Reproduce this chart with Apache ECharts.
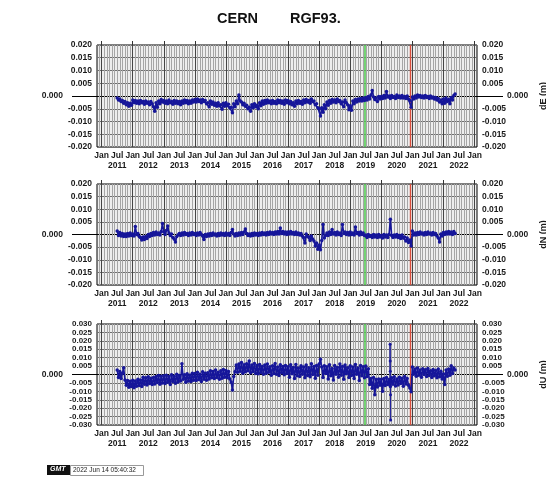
<!DOCTYPE html>
<html>
<head>
<meta charset="utf-8">
<script src="https://cdn.jsdelivr.net/npm/echarts@6/dist/echarts.min.js"></script>
<style>
html, body { margin: 0; padding: 0; background: #fff; }
#chart { width: 546px; height: 478px; }
</style>
</head>
<body>
<div id="chart"></div>
<script>
// time axis (decimal years), samples every half month from mid 2011
var T0 = 2011.5;
var DT = 1 / 24;
var X_MIN = 2010.85, X_MAX = 2023.08;
var yearLabels = ['2011','2012','2013','2014','2015','2016','2017','2018','2019','2020','2021','2022'];
var halfYearNames = ['Jan', 'Jul'];
var greenEpoch = 2019.48;   // green vertical line
var redEpoch = 2020.92;     // red vertical line

// dE in mm
var dE = [
  -0.8,-1.6,-1.2,-2.2,-1.8,-2.8,-2.2,-3.4,-2.6,-4.0,-2.8,-3.6,
  -1.6,-2.6,-1.8,-2.8,-2.0,-3.0,-1.8,-2.6,-2.2,-3.2,-2.0,-2.8,-2.4,-3.4,-2.2,-3.0,-4.2,-6.0,-2.6,-4.4,-2.0,-3.0,-1.4,-2.4,
  -1.8,-2.8,-2.0,-3.0,-1.6,-2.6,-2.2,-3.2,-1.8,-2.8,-2.0,-3.0,-2.2,-3.4,-2.0,-2.8,-1.6,-2.6,-1.8,-3.0,-2.0,-2.8,-1.6,-2.4,
  -1.4,-2.4,-1.2,-2.2,-1.6,-2.6,-1.4,-2.2,-1.8,-3.0,-2.6,-4.2,-2.0,-3.2,-2.4,-3.6,-2.8,-4.0,-2.6,-3.8,-3.4,-5.2,-2.8,-4.0,
  -2.6,-3.8,-3.2,-4.6,-4.4,-6.6,-3.0,-4.2,-2.0,-3.0,0.4,-2.0,-2.4,-3.4,-2.8,-4.0,-3.6,-5.0,-4.4,-6.0,-3.4,-4.6,-3.0,-4.2,
  -3.6,-5.0,-2.6,-3.8,-2.0,-3.2,-1.8,-2.8,-1.6,-2.6,-2.0,-3.0,-1.8,-2.8,-2.2,-3.0,-1.6,-2.6,-1.8,-2.8,-2.0,-3.2,-1.6,-2.6,
  -1.8,-3.0,-2.2,-3.4,-2.6,-4.0,-2.0,-3.0,-1.8,-2.8,-2.2,-3.2,-1.6,-2.6,-1.4,-2.4,-1.8,-2.8,-1.2,-2.2,-2.0,-3.4,-3.0,-4.6,
  -5.0,-7.8,-4.6,-6.4,-3.4,-5.0,-2.4,-3.6,-1.8,-2.8,-1.4,-2.4,-1.6,-2.6,-1.2,-2.2,-1.8,-3.0,-2.4,-4.2,-1.6,-2.6,-3.4,-5.4,
  -3.8,-5.6,-2.0,-3.0,-1.4,-2.4,-1.2,-2.0,-1.0,-2.0,-0.8,-1.8,-0.6,-1.6,-0.2,-1.2,0.4,2.2,-0.4,-1.4,-0.8,-2.2,-0.2,-1.2,
  -0.2,-1.0,0.2,-0.8,1.8,-0.4,0.0,-1.0,0.2,-0.6,-0.2,-1.0,0.4,-0.6,0.0,-0.8,0.2,-0.8,-0.2,-1.0,0.0,-1.2,-1.8,-4.4,
  -0.4,-1.2,0.0,-0.8,0.4,-0.4,0.2,-0.6,0.0,-0.8,0.2,-0.6,-0.2,-1.0,0.0,-0.8,-0.4,-1.2,-0.6,-1.6,-1.0,-2.4,-1.6,-3.0,
  -1.2,-2.8,-0.8,-2.2,-1.4,-3.0,-0.6,-1.6,0.2,0.8
];

// dN in mm
var dN = [
  1.4,-0.4,0.8,-0.6,0.4,-0.8,0.2,-0.8,0.4,-0.6,0.6,-0.4,
  0.2,-0.6,3.2,0.0,0.4,-0.8,-1.2,-2.2,-1.0,-2.0,-0.8,-1.6,0.0,-0.8,0.4,-0.4,0.8,-0.2,1.0,0.0,0.6,-0.2,1.2,4.4,
  1.0,0.0,1.6,3.4,0.6,-0.4,0.2,-1.2,-1.8,-3.0,-0.8,-0.2,0.4,-0.4,0.6,-0.2,0.8,0.0,0.4,-0.4,0.6,-0.2,0.8,0.0,
  0.4,-0.4,0.6,-0.2,0.8,0.0,-0.6,-2.0,0.0,-0.8,0.2,-0.6,0.4,-0.4,0.6,-0.2,0.2,-0.6,0.4,-0.4,0.6,-0.2,0.4,-0.4,
  0.6,-0.2,0.4,-0.4,0.8,2.0,0.2,-0.6,0.4,-0.4,0.6,-0.2,0.8,0.0,1.0,2.2,0.4,-0.4,0.2,-0.6,0.4,-0.4,0.6,-0.2,
  0.4,-0.4,0.6,-0.2,0.8,0.0,0.6,-0.2,0.8,0.0,1.0,0.2,0.8,0.0,1.0,0.2,1.2,0.2,2.6,0.4,1.2,0.2,1.0,0.0,
  1.0,0.2,1.2,0.2,0.8,0.0,1.0,0.0,0.6,-0.2,0.4,-0.6,-1.2,-3.4,0.2,-0.8,-1.0,-2.4,-0.6,-1.8,-2.6,-4.6,-3.4,-5.8,
  -4.2,-6.0,-2.4,4.0,-1.4,-0.4,0.6,-0.4,1.0,0.0,2.0,0.2,0.8,-0.2,1.0,0.0,0.6,-0.4,4.0,0.4,1.0,0.0,0.8,-0.2,
  1.0,0.0,0.6,-0.2,3.0,0.4,0.8,-0.2,1.0,0.0,0.6,-0.4,-0.2,-1.2,0.0,-0.8,-0.4,-1.2,0.0,-1.0,-0.2,-1.2,0.0,-1.0,
  -0.4,-1.4,0.0,-1.0,-0.2,-1.2,0.0,6.0,-0.4,-1.2,-0.2,-1.0,0.0,-1.2,-0.4,-1.6,-0.2,-1.4,-1.0,-2.6,-1.4,-3.2,-2.2,-4.6,
  1.4,-0.2,0.6,-0.2,0.8,0.0,1.0,0.2,0.6,-0.2,0.8,0.0,1.0,0.2,0.6,-0.2,0.8,0.0,0.4,-0.6,-1.4,-3.0,0.2,-0.6,
  0.8,0.0,1.0,0.2,1.2,0.2,1.0,0.0,1.2,0.4
];

// dU in mm
var dU = [
  2.6,-1.8,1.8,-2.4,0.8,4.0,-3.2,-6.4,-3.6,-7.6,-4.0,-7.2,
  -3.4,-7.8,-3.8,-7.0,-2.8,-6.6,-3.2,-7.2,-1.6,-5.8,-2.0,-6.2,-1.4,-5.4,-2.2,-6.0,-1.8,-5.6,-1.2,-4.8,-0.6,-5.8,-1.0,-5.0,
  -0.8,-5.4,-0.4,-4.6,-1.2,-6.0,-0.2,-4.2,-1.0,-5.2,0.2,-4.4,-0.6,-3.8,6.4,-2.8,-0.2,-4.6,0.4,-3.8,-0.4,-4.2,0.8,-3.4,
  0.6,-3.6,1.4,-3.0,0.2,-4.2,1.6,-2.8,0.8,-3.4,1.0,-2.6,2.2,-2.0,1.8,-2.4,2.6,-1.8,1.4,-2.8,2.2,-2.2,3.0,-1.6,
  2.4,-2.0,1.8,-2.6,-4.4,-9.2,-1.2,1.6,5.6,1.4,6.2,2.0,7.2,0.8,5.8,1.6,6.4,2.2,8.0,1.0,5.6,1.8,6.6,0.6,
  5.4,0.4,6.0,1.2,4.8,0.2,5.6,0.8,6.2,1.4,4.6,-0.4,5.2,0.6,6.6,0.2,4.4,-0.6,5.8,1.0,4.8,-0.2,5.4,0.6,
  4.6,-1.6,5.8,0.4,4.2,-2.4,6.0,-0.8,3.8,-1.2,5.2,0.2,4.4,-2.0,5.6,-0.6,4.0,-1.4,6.4,0.0,4.8,-2.2,5.4,-0.4,
  6.2,9.0,4.4,-1.8,5.2,0.6,4.6,-2.6,5.8,-0.8,3.6,-3.2,5.4,0.2,4.2,-1.6,6.2,-0.4,4.8,-2.8,5.6,0.4,4.0,-1.8,
  5.2,-0.6,4.4,-2.4,6.0,0.2,3.8,-3.6,5.4,-0.8,4.6,-2.0,5.0,-1.2,3.4,-6.0,-2.4,-8.2,-1.8,-12.0,-3.0,-7.4,-2.6,-6.4,
  -2.8,-10.0,-2.4,-6.6,-1.8,-6.0,-3.0,-7.2,-2.0,-5.8,-1.4,-6.8,-2.6,-6.2,-1.6,-5.4,-2.2,-7.0,-1.2,-5.6,-2.4,-6.4,-8.0,-10.2,
  4.4,0.2,3.2,-1.0,3.8,-0.4,2.6,-1.6,3.4,0.0,2.8,-1.2,3.6,-0.6,2.2,-1.8,3.0,-0.8,2.4,-2.0,3.2,-1.4,2.0,-2.6,
  0.4,-6.0,2.6,-1.0,3.2,-0.4,5.2,0.6,3.8,2.6
];

// dU outlier burst in spring 2020
var duSpikeTimes = [2020.280, 2020.283, 2020.287, 2020.290, 2020.293, 2020.297, 2020.300];
var duSpikeValues = [-4, 18, 8, 2, -5, -12, -27];

var FONT = 'Liberation Sans';
var BLUE = '#16169a';

function toPairs(vals) {
  return vals.map(function (v, i) { return [T0 + i * DT, v / 1000]; });
}

var monthTicks = [], janTicks = [], halfYears = [], midYears = [];
for (var y = 2010; y <= 2023; y++) {
  for (var m = 0; m < 12; m++) {
    var t = y + m / 12;
    if (t < X_MIN || t > X_MAX) continue;
    if (m === 0) janTicks.push(t); else monthTicks.push(t);
  }
}
for (var k = 0; k < yearLabels.length; k++) {
  var yr = +yearLabels[k];
  halfYears.push(yr, yr + 0.5);
  midYears.push(yr + 0.5);
}
halfYears.push(+yearLabels[yearLabels.length - 1] + 1);

var panels = [
  { name: 'dE (m)', lim: 0.02, values: dE, top: 45, height: 102, fs: 8.5 },
  { name: 'dN (m)', lim: 0.02, values: dN, top: 184, height: 101, fs: 8.5 },
  { name: 'dU (m)', lim: 0.03, values: dU, top: 324, height: 101, fs: 8 }
];

var grids = [], xAxes = [], yAxes = [], series = [];
panels.forEach(function (p, g) {
  grids.push({ left: 97, width: 380, top: p.top, height: p.height, show: true,
    outerBoundsMode: 'none', containLabel: false,
    backgroundColor: '#eeeeee', borderColor: '#000', borderWidth: 1 });
  var xi = xAxes.length, yi = yAxes.length;
  // month grid + Jan/Jul labels
  xAxes.push({ type: 'value', gridIndex: g, min: X_MIN, max: X_MAX, position: 'bottom',
    axisLine: { show: false, onZero: false },
    axisTick: { show: false, customValues: monthTicks },
    splitLine: { show: true, lineStyle: { color: '#a6a6a6', width: 1 } },
    axisLabel: { customValues: halfYears, margin: 4, fontFamily: FONT, fontSize: 8.5, fontWeight: 'bold', color: '#1a1a1a',
      formatter: function (v) { return Math.abs(v - Math.round(v)) < 0.01 ? halfYearNames[0] : halfYearNames[1]; } } });
  // January lines and top ticks
  xAxes.push({ type: 'value', gridIndex: g, min: X_MIN, max: X_MAX, position: 'top',
    axisLine: { show: false, onZero: false },
    axisTick: { show: true, inside: false, length: 4, customValues: janTicks, lineStyle: { color: '#333' } },
    splitLine: { show: true, lineStyle: { color: '#444', width: 1 } },
    axisLabel: { show: false } });
  // year labels
  xAxes.push({ type: 'value', gridIndex: g, min: X_MIN, max: X_MAX, position: 'bottom',
    axisLine: { show: false, onZero: false },
    axisTick: { show: false, customValues: midYears },
    splitLine: { show: false },
    axisLabel: { customValues: midYears, margin: 14, fontFamily: FONT, fontSize: 8.5, fontWeight: 'bold', color: '#1a1a1a',
      formatter: function (v) { return String(Math.floor(v)); } } });

  var lab = { fontFamily: FONT, fontSize: p.fs, fontWeight: 'bold', color: '#1a1a1a',
    formatter: function (v) { return Math.abs(v) < 1e-9 ? '' : v.toFixed(3); } };
  yAxes.push({ type: 'value', gridIndex: g, min: -p.lim, max: p.lim, interval: 0.005, position: 'left',
    axisLine: { show: false, onZero: false }, axisTick: { show: false },
    splitLine: { show: true, lineStyle: { color: '#707070', width: 1 } },
    axisLabel: Object.assign({ margin: 5 }, lab) });
  yAxes.push({ type: 'value', gridIndex: g, min: -p.lim, max: p.lim, interval: 0.005, position: 'right',
    axisLine: { show: false, onZero: false }, axisTick: { show: false }, splitLine: { show: false },
    axisLabel: Object.assign({ margin: 5 }, lab) });
  // zero line reaching out to the 0.000 labels
  yAxes.push({ type: 'value', gridIndex: g, min: -p.lim, max: p.lim, position: 'left',
    axisLine: { show: false, onZero: false },
    axisTick: { show: true, length: 25, customValues: [0], lineStyle: { color: '#000' } },
    splitLine: { show: true, lineStyle: { color: '#000', width: 1 } },
    axisLabel: { customValues: [0], margin: 34, fontFamily: FONT, fontSize: 8.5, fontWeight: 'bold', color: '#1a1a1a',
      formatter: function () { return '0.000'; } } });
  yAxes.push({ type: 'value', gridIndex: g, min: -p.lim, max: p.lim, position: 'right',
    axisLine: { show: false, onZero: false },
    axisTick: { show: true, length: 26, customValues: [0], lineStyle: { color: '#000' } },
    splitLine: { show: false },
    axisLabel: { customValues: [0], margin: 30, fontFamily: FONT, fontSize: 8.5, fontWeight: 'bold', color: '#1a1a1a',
      formatter: function () { return '0.000'; } },
    name: p.name, nameLocation: 'middle', nameRotate: 90, nameGap: 57,
    nameTextStyle: { fontFamily: FONT, fontSize: 9, fontWeight: 'bold', color: '#1a1a1a' } });

  series.push({ type: 'line', xAxisIndex: xi, yAxisIndex: yi, data: toPairs(p.values),
    symbol: 'circle', symbolSize: 3.5, showSymbol: true, z: 5,
    lineStyle: { color: BLUE, width: 1.6 }, itemStyle: { color: BLUE },
    markLine: { silent: true, symbol: 'none', label: { show: false }, z: 4,
      data: [
        { xAxis: greenEpoch, lineStyle: { color: '#55cc55', width: 1.6, type: 'solid' } },
        { xAxis: redEpoch, lineStyle: { color: '#d84c3a', width: 1.4, type: 'solid' } }
      ] } });
  if (g === 2) {
    series.push({ type: 'line', xAxisIndex: xi, yAxisIndex: yi, z: 5,
      data: duSpikeTimes.map(function (t, i) { return [t, duSpikeValues[i] / 1000]; }),
      symbol: 'circle', symbolSize: 3, lineStyle: { color: BLUE, width: 1 }, itemStyle: { color: BLUE } });
  }
});

var chart = echarts.init(document.getElementById('chart'));
chart.setOption({
  animation: false,
  title: [
    { text: 'CERN', left: 212, top: 6, textStyle: { fontFamily: FONT, fontSize: 14.5, fontWeight: 'bold', color: '#111' } },
    { text: 'RGF93.', left: 285, top: 6, textStyle: { fontFamily: FONT, fontSize: 14.5, fontWeight: 'bold', color: '#111' } }
  ],
  grid: grids,
  xAxis: xAxes,
  yAxis: yAxes,
  series: series,
  graphic: [
    { type: 'rect', left: 47, top: 465, shape: { width: 23, height: 10 }, style: { fill: '#111' } },
    { type: 'text', left: 50, top: 466, style: { text: 'GMT', fill: '#fff', font: 'italic bold 7px "Liberation Sans"' } },
    { type: 'rect', left: 70, top: 465, shape: { width: 73, height: 10 }, style: { fill: '#fff', stroke: '#999', lineWidth: 1 } },
    { type: 'text', left: 73, top: 467, style: { text: '2022 Jun 14 05:40:32', fill: '#222', font: '6.5px "Liberation Sans"' } }
  ]
});
</script>
</body>
</html>
